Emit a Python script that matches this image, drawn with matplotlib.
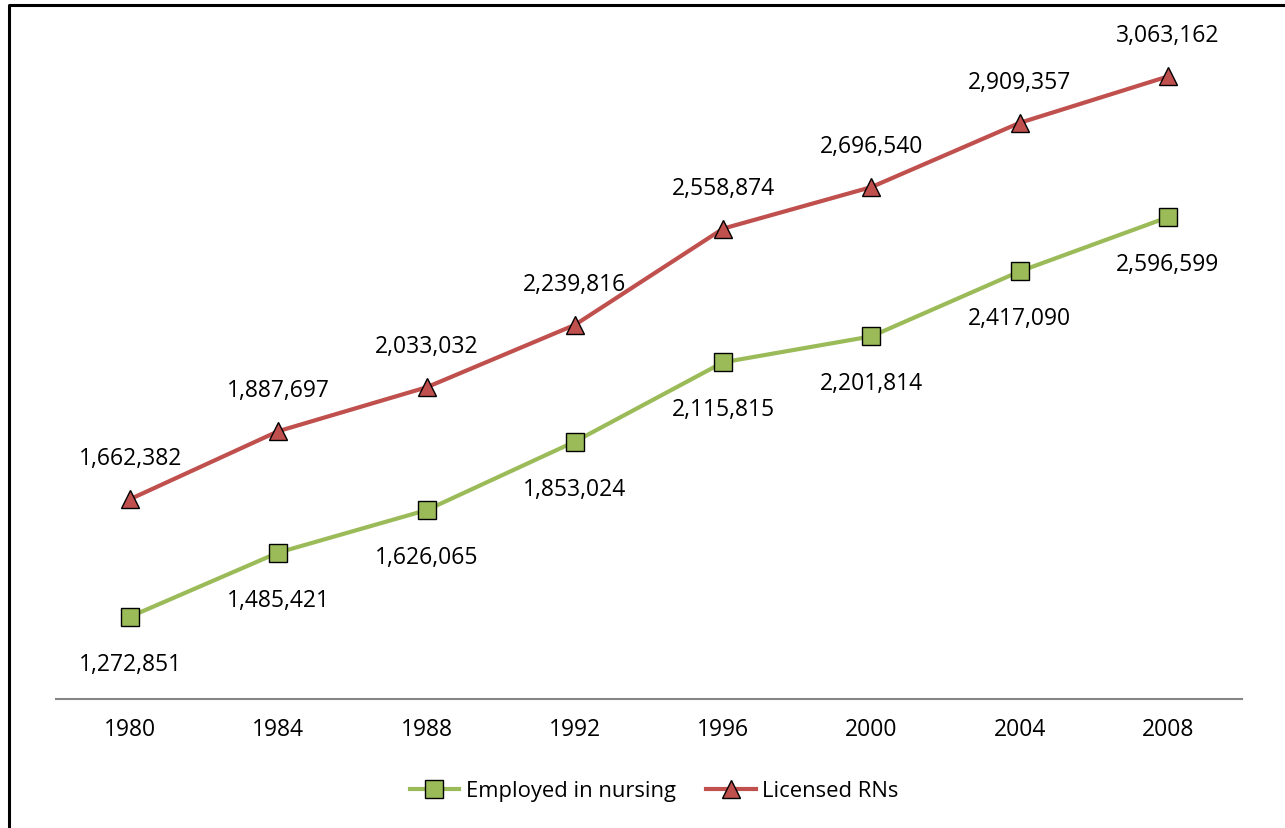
import matplotlib
matplotlib.use("Agg")
import matplotlib.pyplot as plt
from matplotlib.lines import Line2D

years = ["1980", "1984", "1988", "1992", "1996", "2000", "2004", "2008"]
employed = [1272851, 1485421, 1626065, 1853024, 2115815, 2201814, 2417090, 2596599]
licensed = [1662382, 1887697, 2033032, 2239816, 2558874, 2696540, 2909357, 3063162]

plt.rcParams['font.family'] = ['Open Sans', 'DejaVu Sans']

W, H = 1285, 829
fig = plt.figure(figsize=(W / 100, H / 100), dpi=100)
ax = fig.add_axes([56 / W, 1 - 700 / H, (1242 - 56) / W, (700 - 6) / H])

x = list(range(len(years)))
verde = "#9BBB59"
rojo = "#C0504D"

ax.plot(x, employed, color=verde, lw=3, marker="s", ms=13,
        mfc=verde, mec="black", mew=1, label="Employed in nursing", zorder=3)
ax.plot(x, licensed, color=rojo, lw=3, marker="^", ms=13,
        mfc=rojo, mec="black", mew=1, label="Licensed RNs", zorder=3)

for xi, v in zip(x, employed):
    ax.annotate(f"{v:,}", (xi, v), xytext=(0, -47), textcoords="offset pixels",
                ha="center", va="center", fontsize=16.5)
for xi, v in zip(x, licensed):
    ax.annotate(f"{v:,}", (xi, v), xytext=(0, 41), textcoords="offset pixels",
                ha="center", va="center", fontsize=16.5)

ax.set_xlim(-0.5, len(years) - 0.5)
ax.set_ylim(1000000, 3300000)
ax.set_xticks(x)
ax.set_xticklabels(years, fontsize=16.5)
ax.tick_params(axis="x", length=0, pad=13)
ax.set_yticks([])
for s in ["top", "right", "left"]:
    ax.spines[s].set_visible(False)
ax.spines["bottom"].set_color("#868686")
ax.spines["bottom"].set_linewidth(1.5)

ax.legend(loc="center", bbox_to_anchor=(0.509, 1 - 792 / H), bbox_transform=fig.transFigure,
          ncol=2, frameon=False, fontsize=15.8, handlelength=2.25,
          handletextpad=0.3, columnspacing=1.4)

# marco del grafico (solo arriba e izquierda visibles)
fig.add_artist(Line2D([9 / W, 9 / W, 1], [0, 1 - 6 / H, 1 - 6 / H],
                      transform=fig.transFigure, color="black", lw=2.2))

fig.savefig("out.png", dpi=100)
